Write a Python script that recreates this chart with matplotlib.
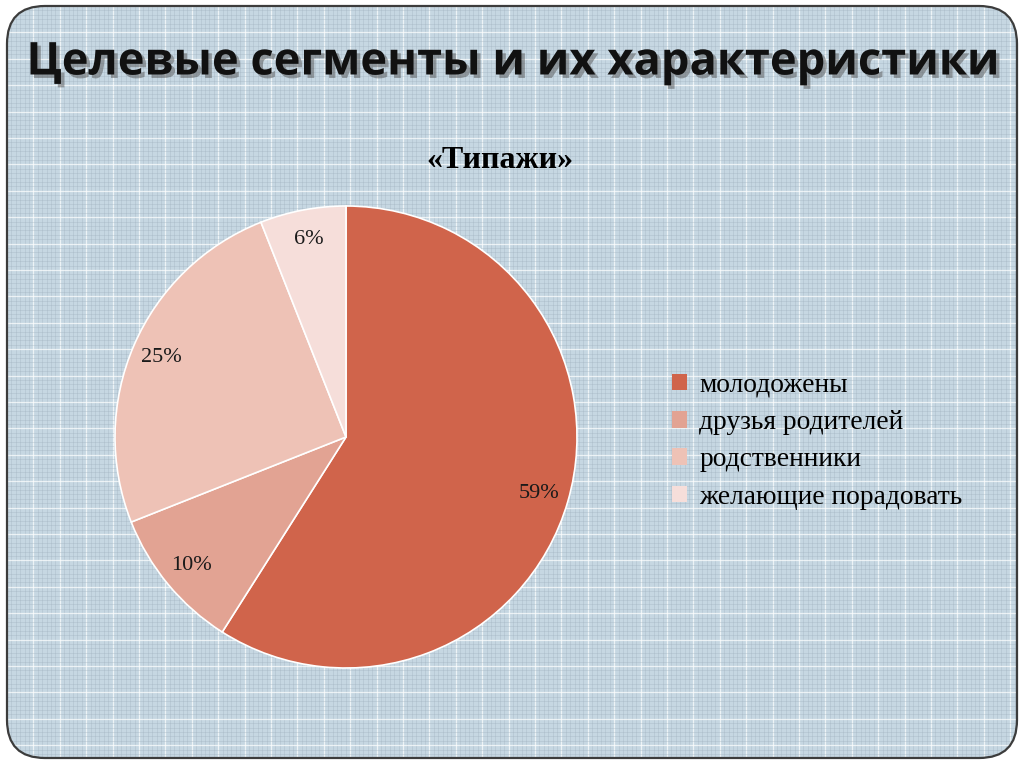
import numpy as np
import matplotlib.pyplot as plt
from matplotlib.patches import FancyBboxPatch
import matplotlib.patheffects as pe

# data
labels = ['молодожены', 'друзья родителей', 'родственники', 'желающие порадовать']
shares = [59, 10, 25, 6]
colors = ['#D0644B', '#E2A393', '#EEC2B6', '#F6DEDA']

slide_title = 'Целевые сегменты и их характеристики'
chart_title = '«Типажи»'

W, H = 1024, 767
fig = plt.figure(figsize=(W / 100, H / 100), dpi=100)
fig.patch.set_facecolor('white')

# background slide with grid paper
bg = fig.add_axes([0, 0, 1, 1])
bg.set_xlim(0, W)
bg.set_ylim(H, 0)
bg.axis('off')

box = FancyBboxPatch((7 + 38, 6 + 38), 1010 - 76, 752 - 76,
                     boxstyle='round,pad=38', facecolor='#C6D7E2',
                     edgecolor='none', zorder=1)
bg.add_patch(box)

step = 4.4
xs = np.arange(7, 1017, step)
ys = np.arange(6, 758, step)
for i, x in enumerate(xs):
    if i % 6 == 0:
        ln = bg.axvline(x, color='white', lw=0.9, alpha=0.7, zorder=2)
    else:
        ln = bg.axvline(x, color='#9FB0BC', lw=0.5, alpha=0.45, zorder=2)
    ln.set_clip_path(box)
for i, y in enumerate(ys):
    if i % 6 == 0:
        ln = bg.axhline(y, color='white', lw=0.9, alpha=0.7, zorder=2)
    else:
        ln = bg.axhline(y, color='#9FB0BC', lw=0.5, alpha=0.45, zorder=2)
    ln.set_clip_path(box)
box2 = FancyBboxPatch((7 + 38, 6 + 38), 1010 - 76, 752 - 76,
                      boxstyle='round,pad=38', facecolor='none',
                      edgecolor='#3c3c3c', linewidth=1.6, zorder=3)
bg.add_patch(box2)

bg.text(512, 63, slide_title, ha='center', va='center', fontsize=32.6,
        fontweight='bold', family='Open Sans', color='#111111', zorder=5,
        path_effects=[pe.SimplePatchShadow(offset=(2.5, -2.5), shadow_rgbFace='#555555', alpha=0.5),
                      pe.Normal()])
bg.text(500, 160, chart_title, ha='center', va='center', fontsize=23,
        fontweight='bold', family='Liberation Serif', color='black', zorder=5)

# pie
cx, cy, r = 346, 437, 231
ax = fig.add_axes([(cx - r) / W, (H - cy - r) / H, 2 * r / W, 2 * r / H])
wedges, texts, autotexts = ax.pie(
    shares, colors=colors, startangle=90, counterclock=False,
    autopct=lambda p: '%d%%' % round(p), pctdistance=0.87,
    wedgeprops=dict(edgecolor='white', linewidth=1.2),
    textprops=dict(family='Liberation Serif', fontsize=16, color='#1a1a1a'))
ax.set_xlim(-1.0, 1.0)
ax.set_ylim(-1.0, 1.0)
ax.set_aspect('equal')

leg = ax.legend(wedges, labels, loc='upper left', bbox_to_anchor=(647 / W, 1 - 348 / H),
                bbox_transform=fig.transFigure, frameon=False,
                prop=dict(family='Liberation Serif', size=19.8),
                handlelength=0.55, handleheight=0.55, handletextpad=0.45, labelspacing=0.45)
for h in leg.legend_handles:
    h.set_edgecolor('none')

fig.savefig('out.png', dpi=100)
